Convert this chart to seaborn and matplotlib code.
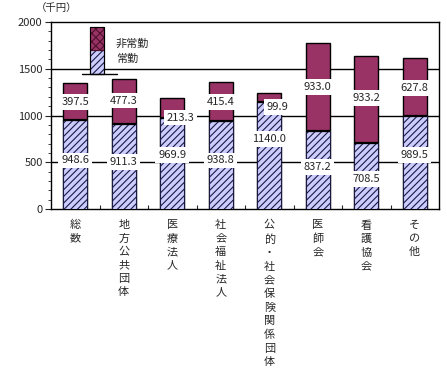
import matplotlib
matplotlib.use("Agg")
import matplotlib.pyplot as plt
import seaborn as sns
import pandas as pd
from matplotlib.patches import Rectangle
from matplotlib.lines import Line2D
from matplotlib.ticker import MultipleLocator

categories = ["総数", "地方公共団体", "医療法人", "社会福祉法人",
              "公的・社会保険関係団体", "医師会", "看護協会", "その他"]
regular = [948.6, 911.3, 969.9, 938.8, 1140.0, 837.2, 708.5, 989.5]
nonregular = [397.5, 477.3, 213.3, 415.4, 99.9, 933.0, 933.2, 627.8]
yticks = [0, 500, 1000, 1500, 2000]

# label placement (layout only)
reg_label_y = [520, 500, 575, 520, 750, 450, 320, 575]
non_label_dx = [0, 0, 0.17, 0, 0.17, 0, 0, 0]
non_label_dy = [0, 10, -100, 0, -100, 0, 10, -10]

sns.set_theme(style="white")
plt.rcParams["font.family"] = ["Noto Sans CJK JP", "DejaVu Sans"]
plt.rcParams["hatch.color"] = "#1a1a40"
plt.rcParams["hatch.linewidth"] = 0.8

df = pd.DataFrame({"cat": categories, "reg": regular,
                   "total": [r + n for r, n in zip(regular, nonregular)]})

fig = plt.figure(figsize=(4.47, 3.73), dpi=100)
ax = fig.add_axes([51 / 447, 1 - 209 / 373, 388 / 447, 187 / 373])

for y in [500, 1000, 1500]:
    ax.axhline(y, color="black", lw=1.0, zorder=0)

sns.barplot(data=df, x="cat", y="total", color="#993366", width=0.5,
            edgecolor="black", linewidth=1.0, saturation=1, ax=ax, zorder=2)
sns.barplot(data=df, x="cat", y="reg", color="#CCCCFF", width=0.5,
            edgecolor="black", linewidth=1.0, saturation=1, ax=ax, zorder=3)
n = len(categories)
for p in ax.patches[n:2 * n]:
    p.set_hatch("/////")
    p.set_edgecolor("#1a1a40")
    p.set_linewidth(0.8)
# black separator line on top of regular part
for i, r in enumerate(regular):
    ax.plot([i - 0.25, i + 0.25], [r, r], color="black", lw=1.6, zorder=4,
            solid_capstyle="butt")

box = dict(facecolor="white", edgecolor="none", pad=2.0)
for i, (r, nn) in enumerate(zip(regular, nonregular)):
    ax.text(i, reg_label_y[i], f"{r:.1f}", ha="center", va="center",
            fontsize=8, bbox=box, zorder=6)
    ax.text(i + non_label_dx[i], r + nn / 2 + non_label_dy[i], f"{nn:.1f}",
            ha="center", va="center", fontsize=8, bbox=box, zorder=6)

ax.set_ylim(0, 2000)
ax.set_xlim(-0.5, n - 0.5)
ax.set_yticks(yticks)
ax.set_yticklabels([str(v) for v in yticks], fontsize=8)
ax.yaxis.set_minor_locator(MultipleLocator(100))
ax.tick_params(axis="y", which="major", direction="out", length=4, width=0.8,
               left=True, pad=2)
ax.tick_params(axis="y", which="minor", direction="out", length=2, width=0.6,
               left=True)
ax.set_xticks(range(n))
ax.set_xticklabels(["\n".join(c) for c in categories], fontsize=8,
                   linespacing=1.43, va="top")
ax.tick_params(axis="x", which="major", length=0, pad=8)
ax.set_xticks([i + 0.5 for i in range(n - 1)], minor=True)
ax.tick_params(axis="x", which="minor", direction="in", length=3, width=0.8,
               bottom=True)
ax.set_xlabel("")
ax.set_ylabel("")
for s in ax.spines.values():
    s.set_visible(True)
    s.set_color("black")
    s.set_linewidth(1.0)

# legend drawn as a mini stacked bar
x0, x1 = (90 - 51) / 388, (104 - 51) / 388
yb, ym, yt = (209 - 74) / 187, (209 - 50) / 187, (209 - 27) / 187
ax.add_patch(Rectangle((x0, yb), x1 - x0, ym - yb, transform=ax.transAxes,
                       facecolor="#CCCCFF", hatch="/////", edgecolor="#1a1a40",
                       lw=0.8, zorder=7, clip_on=False))
ax.add_patch(Rectangle((x0, ym), x1 - x0, yt - ym, transform=ax.transAxes,
                       facecolor="#993366", hatch="xxxx", edgecolor="#4d0f2a",
                       lw=0.8, zorder=7, clip_on=False))
ax.add_patch(Rectangle((x0, yb), x1 - x0, yt - yb, transform=ax.transAxes,
                       facecolor="none", edgecolor="black", lw=0.8, zorder=8))
ax.add_line(Line2D([(82 - 51) / 388, (117 - 51) / 388], [yb, yb],
                   transform=ax.transAxes, color="black", lw=1.0, zorder=8))
ax.text((116 - 51) / 388, (209 - 44) / 187, "非常勤", transform=ax.transAxes,
        fontsize=8, va="center", ha="left")
ax.text((116 - 51) / 388, (209 - 59) / 187, "常勤", transform=ax.transAxes,
        fontsize=8, va="center", ha="left")

fig.text(36 / 447, 1 - 8 / 373, "（千円）", fontsize=7.5, va="center", ha="left")

fig.savefig("out.png", dpi=100)
